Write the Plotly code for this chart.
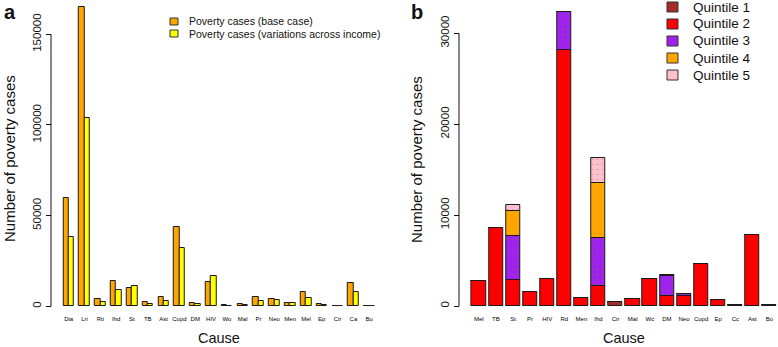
import plotly.graph_objects as go
import numpy as np

W, H = 778, 347
FONT = "Liberation Sans, Arial, sans-serif"

# ---------------- data ----------------
causes_a = ["Dia", "Lri", "Rti", "Ihd", "St", "TB", "Ast", "Copd", "DM", "HIV",
            "Wo", "Mal", "Pr", "Neo", "Men", "Mel", "Ep", "Cir", "Ca", "Bo"]
base_case = [60000, 165000, 4200, 14000, 10000, 2300, 5100, 44000, 1700, 13300,
             500, 1200, 5000, 4200, 2000, 7800, 1200, 200, 12600, 100]
var_income = [38000, 104000, 2400, 8900, 11300, 1500, 3000, 32300, 1000, 16700,
              300, 500, 3000, 3700, 1600, 4600, 500, 100, 7800, 50]
series_a = ["Poverty cases (base case)", "Poverty cases (variations across income)"]
ticks_a = [0, 50000, 100000, 150000]

causes_b = ["Mel", "TB", "St", "Pr", "HIV", "Rd", "Men", "Ihd", "Cir", "Mal",
            "Wc", "DM", "Neo", "Copd", "Ep", "Cc", "Ast", "Bo"]
quintile_names = ["Quintile 1", "Quintile 2", "Quintile 3", "Quintile 4", "Quintile 5"]
q1 = [0, 0, 0, 0, 0, 0, 0, 0, 450, 0, 0, 0, 0, 0, 0, 0, 0, 0]
q2 = [2700, 8600, 2900, 1500, 3000, 28200, 900, 2230, 0, 740,
      2950, 1100, 1100, 4600, 700, 80, 7800, 60]
q3 = [0, 0, 4800, 0, 0, 4100, 0, 5300, 0, 0, 0, 2150, 200, 0, 0, 0, 0, 0]
q4 = [0, 0, 2700, 0, 0, 0, 0, 5950, 0, 0, 0, 150, 0, 0, 0, 0, 0, 0]
q5 = [0, 0, 750, 0, 0, 0, 0, 2800, 0, 0, 0, 0, 0, 0, 0, 0, 0, 0]
ticks_b = [0, 10000, 20000, 30000]

# ---------------- styles ----------------
col_a = ["#FFA500", "#FFFF00"]
col_b = ["#A52A2A", "#FF0000", "#A020F0", "#FFA500", "#FFC0CB"]
pat_b = [None, None, dict(shape=".", fgcolor="#6a8a30", size=5, solidity=0.08),
         None, dict(shape=".", fgcolor="#c06070", size=5, solidity=0.08)]
EDGE = "#1a1a1a"


def px(x):
    return x / W


def py(y):
    return 1 - y / H


fig = go.Figure()

# panel a: grouped bars
bw = 0.337
for i, (name, vals) in enumerate(zip(series_a, [base_case, var_income])):
    fig.add_trace(go.Bar(
        x=causes_a, y=vals, name=name, xaxis="x", yaxis="y",
        width=bw, offset=-bw if i == 0 else 0,
        marker=dict(color=col_a[i], line=dict(color=EDGE, width=1)),
        showlegend=False))

# panel b: stacked bars
quint = [q1, q2, q3, q4, q5]
cum = np.zeros(len(causes_b))
for i, vals in enumerate(quint):
    v = np.array(vals, dtype=float)
    marker = dict(color=col_b[i], line=dict(color=EDGE, width=1))
    if pat_b[i]:
        marker["pattern"] = pat_b[i]
    fig.add_trace(go.Bar(
        x=causes_b, y=v, base=cum.copy(), name=quintile_names[i],
        xaxis="x2", yaxis="y2", width=0.833, marker=marker,
        showlegend=False))
    cum += v

# plot-area pixel geometry
top_px, bot_px = 2, 314
a_x0, a_pitch = 68.67, 15.82
b_x0, b_pitch = 478.8, 17.1
a_zero, a_scale = 306.3, 551.5
b_zero, b_scale = 306.0, 110.0

xa_l = a_x0 - 0.5 * a_pitch
xa_r = a_x0 + (len(causes_a) - 0.5) * a_pitch
xb_l = b_x0 - 0.5 * b_pitch
xb_rng_r = (W - b_x0) / b_pitch

tickfont_x = dict(family=FONT, size=6, color="#000")
tickfont_y = dict(family=FONT, size=11.5, color="#111")

fig.update_layout(
    width=W, height=H, margin=dict(l=0, r=0, t=0, b=0),
    paper_bgcolor="white", plot_bgcolor="white",
    barmode="overlay", bargap=0,
    font=dict(family=FONT, color="#111"),
    xaxis=dict(domain=[px(xa_l), px(xa_r)], range=[-0.5, len(causes_a) - 0.5],
               type="category", showline=False, showgrid=False, zeroline=False,
               ticks="", tickfont=tickfont_x, tickangle=0, anchor="y"),
    yaxis=dict(domain=[py(bot_px), py(top_px)],
               range=[(a_zero - bot_px) * a_scale, (a_zero - top_px) * a_scale],
               anchor="free", position=px(51), showgrid=False, zeroline=False,
               showline=False, ticks="outside", ticklen=5, tickcolor="#111",
               tickvals=ticks_a, ticktext=[str(t) for t in ticks_a],
               tickangle=-90, tickfont=tickfont_y),
    xaxis2=dict(domain=[px(xb_l), 1.0], range=[-0.5, xb_rng_r],
                type="category", showline=False, showgrid=False, zeroline=False,
                ticks="", tickfont=tickfont_x, tickangle=0, anchor="y2"),
    yaxis2=dict(domain=[py(bot_px), py(top_px)],
                range=[(b_zero - bot_px) * b_scale, (b_zero - top_px) * b_scale],
                anchor="free", position=px(459), showgrid=False, zeroline=False,
                showline=False, ticks="outside", ticklen=5, tickcolor="#111",
                tickvals=ticks_b, ticktext=[str(t) for t in ticks_b],
                tickangle=-90, tickfont=tickfont_y),
)

shapes = []
# R-style axis lines spanning first to last tick
shapes.append(dict(type="line", xref="paper", yref="y", x0=px(51), x1=px(51),
                   y0=ticks_a[0], y1=ticks_a[-1], line=dict(color="#111", width=1)))
shapes.append(dict(type="line", xref="paper", yref="y2", x0=px(459), x1=px(459),
                   y0=ticks_b[0], y1=ticks_b[-1], line=dict(color="#111", width=1)))

ann = []
# axis titles
for xc in (9, 416):
    ann.append(dict(text="Number of poverty cases", x=px(xc), y=py(159), xref="paper",
                    yref="paper", showarrow=False, textangle=-90,
                    font=dict(family=FONT, size=15, color="#111"),
                    xanchor="center", yanchor="middle"))
for xc in (219, 624):
    ann.append(dict(text="Cause", x=px(xc), y=py(338), xref="paper", yref="paper",
                    showarrow=False, font=dict(family=FONT, size=14.5, color="#111"),
                    xanchor="center", yanchor="middle"))
# panel letters
ann.append(dict(text="<b>a</b>", x=px(10), y=py(12), xref="paper", yref="paper",
                showarrow=False, font=dict(family=FONT, size=20, color="#111"),
                xanchor="center", yanchor="middle"))
ann.append(dict(text="<b>b</b>", x=px(417), y=py(12), xref="paper", yref="paper",
                showarrow=False, font=dict(family=FONT, size=20, color="#111"),
                xanchor="center", yanchor="middle"))

# legend a
for i, name in enumerate(series_a):
    yc = 21.5 + 12 * i
    shapes.append(dict(type="rect", xref="paper", yref="paper",
                       x0=px(170), x1=px(178), y0=py(yc + 3.5), y1=py(yc - 3.5),
                       fillcolor=col_a[i], line=dict(color="#333", width=1)))
    ann.append(dict(text=name, x=px(187), y=py(yc), xref="paper", yref="paper",
                    showarrow=False, font=dict(family=FONT, size=10.5, color="#111"),
                    xanchor="left", yanchor="middle"))

# legend b
for i, name in enumerate(quintile_names):
    yc = 7 + 17.0 * i
    shapes.append(dict(type="rect", xref="paper", yref="paper",
                       x0=px(667), x1=px(678), y0=py(yc + 5), y1=py(yc - 5),
                       fillcolor=col_b[i], line=dict(color="#333", width=1)))
    ann.append(dict(text=name, x=px(691), y=py(yc), xref="paper", yref="paper",
                    showarrow=False, font=dict(family=FONT, size=13.5, color="#111"),
                    xanchor="left", yanchor="middle"))

fig.update_layout(shapes=shapes, annotations=ann)
fig.write_html(
    "out.html",
    config={"displayModeBar": False},
    post_script="document.body.style.margin='0';document.body.style.overflow='hidden';",
)
